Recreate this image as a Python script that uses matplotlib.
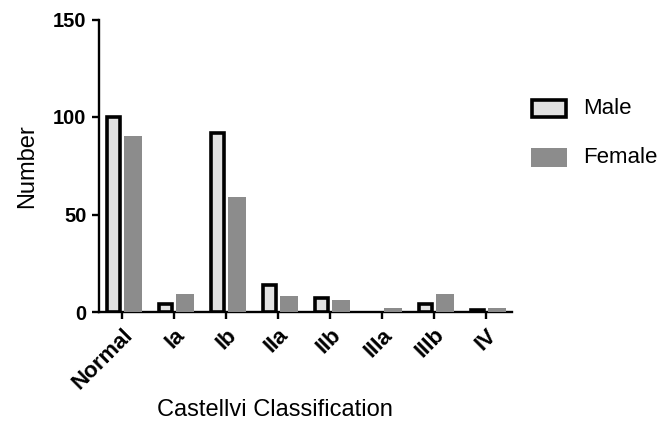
import matplotlib.pyplot as plt
import numpy as np
from matplotlib.patches import Rectangle

plt.rcParams['font.family'] = ['Liberation Sans', 'DejaVu Sans']

# --- data ---
categories = ['Normal', 'Ia', 'Ib', 'IIa', 'IIb', 'IIIa', 'IIIb', 'IV']
male = [100, 4, 92, 14, 7, 0, 4, 1]
female = [90, 9, 59, 8, 6, 2, 9, 2]

W, H = 670, 422
fig = plt.figure(figsize=(6.7, 4.22), dpi=100)
ax = fig.add_axes([99/W, 1-312/H, (512-99)/W, (312-19.5)/H])

male_c = '#e2e2e2'
female_c = '#8c8c8c'

x = np.arange(len(categories))
# 値が0の棒は枠線なし
male_lw = [2.6 if v > 0 else 0 for v in male]
ax.bar(x - 0.165, male, width=0.26, color=male_c, edgecolor='black',
       linewidth=male_lw, zorder=3)
ax.bar(x + 0.212, female, width=0.346, color=female_c, edgecolor='none', zorder=3)

ax.set_xlim(-0.44, 7.5)
ax.set_ylim(0, 150)
ax.set_yticks([0, 50, 100, 150])
ax.set_xticks(x)
ax.set_xticklabels(categories, rotation=45, ha='right', rotation_mode='anchor',
                   fontsize=16, fontweight='bold')
for lab in ax.get_yticklabels():
    lab.set_fontsize(14.5)
    lab.set_fontweight('bold')

for s in ['top', 'right']:
    ax.spines[s].set_visible(False)
for s in ['left', 'bottom']:
    ax.spines[s].set_linewidth(1.7)
ax.tick_params(direction='out', length=5, width=1.7)
ax.tick_params(axis='y', pad=4)
ax.tick_params(axis='x', pad=4)

ax.set_ylabel('Number', fontsize=17, va='baseline')
ax.yaxis.set_label_coords(33/W, 1-166/H, transform=fig.transFigure)
ax.set_xlabel('Castellvi Classification', fontsize=17, va='baseline')
ax.xaxis.set_label_coords(275/W, 1-416/H, transform=fig.transFigure)

# 凡例（手で配置）
fig.patches.append(Rectangle((532/W, 1-117/H), 34/W, 17/H, transform=fig.transFigure,
                             facecolor=male_c, edgecolor='black', linewidth=2.6))
fig.patches.append(Rectangle((531/W, 1-167/H), 36/W, 19/H, transform=fig.transFigure,
                             facecolor=female_c, edgecolor='none'))
fig.text(583/W, 1-108.5/H, 'Male', fontsize=16, va='center', ha='left')
fig.text(583/W, 1-157.5/H, 'Female', fontsize=16, va='center', ha='left')

fig.savefig('out.png', dpi=100)
